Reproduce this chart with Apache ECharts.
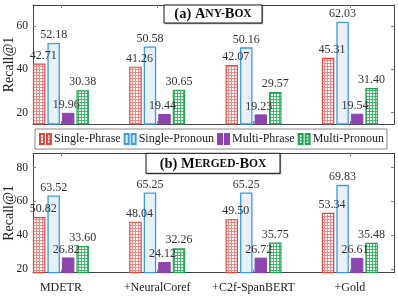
<!DOCTYPE html>
<html><head><meta charset="utf-8">
<script src="https://cdn.jsdelivr.net/npm/echarts@6/dist/echarts.min.js"></script>
<style>html,body{margin:0;padding:0;background:#fff}#c{width:398px;height:298px}</style>
</head><body><div id="c"></div>
<script>
const categories = ['MDETR', '+NeuralCoref', '+C2f-SpanBERT', '+Gold'];
const seriesNames = ['Single-Phrase', 'Single-Pronoun', 'Multi-Phrase', 'Multi-Pronoun'];
const anySinglePhrase = [42.71, 41.26, 42.07, 45.31];
const anySinglePronoun = [52.18, 50.58, 50.16, 62.03];
const anyMultiPhrase = [19.96, 19.44, 19.23, 19.54];
const anyMultiPronoun = [30.38, 30.65, 29.57, 31.40];
const mergedSinglePhrase = [50.82, 48.04, 49.50, 53.34];
const mergedSinglePronoun = [63.52, 65.25, 65.25, 69.83];
const mergedMultiPhrase = [26.82, 24.12, 26.72, 26.61];
const mergedMultiPronoun = [33.60, 32.26, 35.75, 35.48];
const anyTicks = [20, 40, 60];
const mergedTicks = [20, 40, 60, 80];
const yName = 'Recall@1';

function makePattern(size, bg, fg, draw) {
  const c = document.createElement('canvas');
  c.width = size; c.height = size;
  const g = c.getContext('2d');
  g.fillStyle = bg; g.fillRect(0, 0, size, size);
  g.fillStyle = fg; draw(g);
  return { image: c, repeat: 'repeat' };
}
const redPat = makePattern(3, '#ffffff', '#f08a84', g => { g.fillRect(0, 0, 3, 1); g.fillRect(0, 0, 1, 3); });
const greenPat = makePattern(3, '#ffffff', '#3cb868', g => { g.fillRect(0, 0, 3, 1); g.fillRect(0, 0, 1, 3); });

const styles = [
  { color: redPat, borderColor: '#e8453c', borderWidth: 1.2 },
  { color: '#e8f1fb', borderColor: '#3d9be3', borderWidth: 1.3 },
  { color: '#8e44ad', borderColor: '#8e44ad', borderWidth: 1 },
  { color: greenPat, borderColor: '#22a455', borderWidth: 1.2 }
];
const labelOffsets = [[4, 0], [0, 0], [-2, 0], [0, 0]];
const FONT = '"Liberation Serif", "DejaVu Serif", serif';
const AX = '#444', TK = '#888';

function mkSeries(idx, vals, axisIdx) {
  return {
    type: 'bar', name: seriesNames[idx],
    xAxisIndex: axisIdx, yAxisIndex: axisIdx,
    data: vals,
    barWidth: 12.5, barGap: '16%',
    itemStyle: styles[idx],
    label: {
      show: true, position: 'top', distance: 2, offset: labelOffsets[idx],
      fontFamily: FONT, fontSize: 12, color: '#333',
      formatter: p => Number(p.value).toFixed(2)
    }
  };
}

// grids 0,1: frames (33..394); grids 2,3: bar grids with wider category band
function catAxis(grid, pos, showLabels) {
  return {
    type: 'category', gridIndex: grid, data: categories, position: pos, boundaryGap: true,
    axisLine: { show: false },
    axisTick: { show: true, inside: true, length: 3, interval: 0, alignWithLabel: true, lineStyle: { color: TK } },
    axisLabel: { show: showLabels, interval: 0, fontFamily: FONT, fontSize: 12, color: '#222', margin: 9 },
    splitLine: { show: false }
  };
}
function frameLineX(grid, pos) {
  return { type: 'value', gridIndex: grid, position: pos, min: 0, max: 1,
    axisLine: { show: true, onZero: false, lineStyle: { color: AX, width: 1 } },
    axisTick: { show: false }, axisLabel: { show: false }, splitLine: { show: false } };
}
function frameY(grid, min, max, ticks, pos, showLabels) {
  return {
    type: 'value', gridIndex: grid, min: min, max: max, position: pos,
    axisLine: { show: true, onZero: false, lineStyle: { color: AX, width: 1 } },
    axisTick: { show: true, inside: true, length: 3, customValues: ticks, lineStyle: { color: TK } },
    axisLabel: { show: showLabels, customValues: ticks, fontFamily: FONT, fontSize: 11.5, color: '#222', margin: 5 },
    splitLine: { show: false }
  };
}
function barY(grid, min, max) {
  return { type: 'value', gridIndex: grid, min: min, max: max, show: false, splitLine: { show: false } };
}

const xAxis = [
  catAxis(2, 'bottom', false), catAxis(3, 'bottom', true),
  catAxis(2, 'top', false), catAxis(3, 'top', false),
  frameLineX(0, 'bottom'), frameLineX(0, 'top'), frameLineX(1, 'bottom'), frameLineX(1, 'top')
];
const yAxis = [
  barY(2, 14.8, 69.7), barY(3, 17.8, 88.5),
  frameY(0, 14.8, 69.7, anyTicks, 'left', true), frameY(0, 14.8, 69.7, anyTicks, 'right', false),
  frameY(1, 17.8, 88.5, mergedTicks, 'left', true), frameY(1, 17.8, 88.5, mergedTicks, 'right', false)
];

function titleBox(x, y, w, h, parts) {
  return [
    { type: 'rect', shape: { x: x + 1.2, y: y + 1.2, width: w, height: h }, style: { fill: '#999' }, z: 10 },
    { type: 'rect', shape: { x: x, y: y, width: w, height: h }, style: { fill: '#fff', stroke: '#111', lineWidth: 1 }, z: 11 },
    { type: 'text', x: x + w / 2, y: y + h / 2 + 0.5, z: 12,
      style: { text: parts, align: 'center', verticalAlign: 'middle', fill: '#111',
        rich: { b: { font: 'bold 14.5px ' + FONT, fill: '#111' }, s: { font: 'bold 11.5px ' + FONT, fill: '#111' } } } }
  ];
}
function nameText(cy) {
  return { type: 'text', x: 9, y: cy, rotation: Math.PI / 2, z: 5,
    style: { text: yName, align: 'center', verticalAlign: 'middle', fill: '#222', font: '14px ' + FONT } };
}

const chart = echarts.init(document.getElementById('c'), null, { renderer: 'canvas' });
chart.setOption({
  animation: false,
  backgroundColor: '#fff',
  grid: [
    { left: 33, right: 4, top: 5, height: 119 },
    { left: 33, right: 4, top: 153.3, height: 119.4 },
    { left: 12.75, width: 402, top: 5, height: 119 },
    { left: 12.75, width: 402, top: 153.3, height: 119.4 }
  ],
  xAxis: xAxis,
  yAxis: yAxis,
  legend: {
    data: seriesNames, left: 35, top: 129, width: 352,
    padding: [4, 3, 4, 4], itemGap: 3, itemWidth: 11, itemHeight: 10,
    borderColor: '#888', borderWidth: 1,
    icon: 'path://M0,0H4V10H0Z M7,0H11V10H7Z',
    textStyle: { fontFamily: FONT, fontSize: 12, color: '#222', padding: [0, 0, 0, -2] }
  },
  graphic: [].concat(
    titleBox(164, 5, 98, 18, '{b|(a) A}{s|NY-}{b|B}{s|OX}'),
    titleBox(146, 153.3, 134, 20, '{b|(b) M}{s|ERGED-}{b|B}{s|OX}'),
    [nameText(64.5), nameText(213)]
  ),
  series: [
    mkSeries(0, anySinglePhrase, 0), mkSeries(1, anySinglePronoun, 0),
    mkSeries(2, anyMultiPhrase, 0), mkSeries(3, anyMultiPronoun, 0),
    mkSeries(0, mergedSinglePhrase, 1), mkSeries(1, mergedSinglePronoun, 1),
    mkSeries(2, mergedMultiPhrase, 1), mkSeries(3, mergedMultiPronoun, 1)
  ]
});
</script></body></html>
